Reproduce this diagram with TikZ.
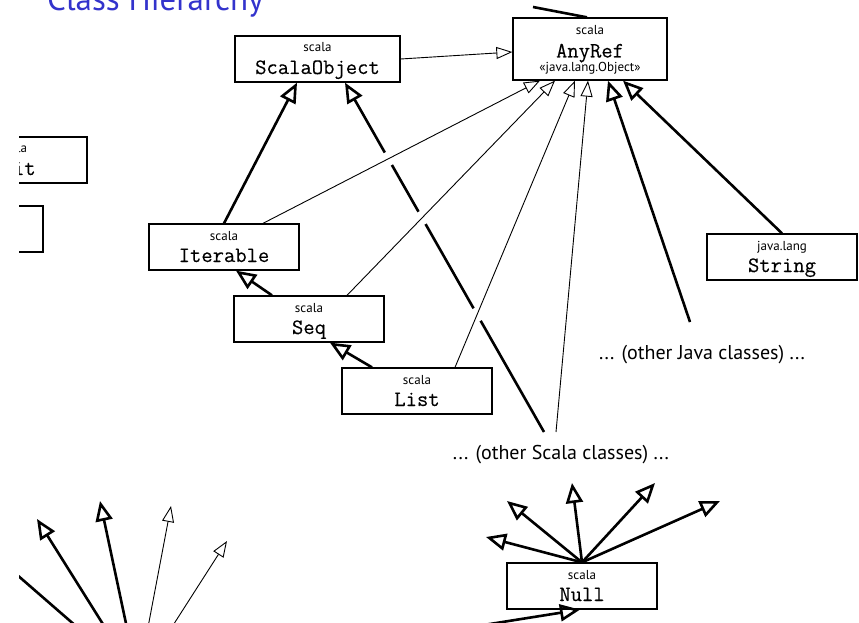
\documentclass[tikz,border=0pt]{standalone}
\usepackage{fontspec}
\setmainfont{PT Sans}
\newfontfamily\cnfont{Latin Modern Mono}[FakeBold=0.25]
\usetikzlibrary{arrows.meta,calc,intersections}
\definecolor{titleblue}{RGB}{51,51,204}
\newcommand\klass[7]{%
  \node[clsbox, minimum width=#4, minimum height=#5] (#1) at (#2,#3) {};
  \node[pkgtext] (#1-p) at ([yshift=7pt]#1.center) {#6};
  \node[cnametext] (#1-c) at ([yshift=-15pt]#1.center) {#7};}
\begin{document}
\begin{tikzpicture}[x=1pt,y=-1pt,
  clsbox/.style={draw,line width=1.3pt,inner sep=0pt},
  pkgtext/.style={font=\fontsize{13}{15}\selectfont,inner sep=0pt,anchor=base},
  cnametext/.style={font=\fontsize{22}{24}\selectfont\cnfont,inner sep=0pt,anchor=base},
  notetext/.style={font=\fontsize{20}{24}\selectfont,inner sep=0pt},
  thinarrow/.style={line width=0.9pt,-{Triangle[open,length=16pt,width=12pt]}},
  thickarrow/.style={line width=2.6pt,-{Triangle[open,length=20pt,width=17pt]}},
  thickline/.style={line width=2.6pt},
  eraser/.style={white,line width=5pt}]
\useasboundingbox (0,0) rectangle (859,623);
\clip (19,0) rectangle (859,623);

\node[font=\fontsize{33}{36}\selectfont,text=titleblue,anchor=base west,inner sep=0pt] (title) at (47,11) {Class Hierarchy};

\klass{so}{317.5}{59}{165pt}{46pt}{scala}{ScalaObject}
\node[clsbox,minimum width=154pt,minimum height=62pt] (any) at (590,49) {};
\node[pkgtext] (any-p) at ([yshift=14pt]any.center) {scala};
\node[cnametext] (any-c) at ([yshift=-8.5pt]any.center) {AnyRef};
\node[pkgtext] (any-j) at ([yshift=-23pt]any.center) {«java.lang.Object»};
\klass{unit}{13}{160}{148pt}{46pt}{scala}{Unit}
\node[clsbox,minimum width=150pt,minimum height=46pt] (bool) at (-32,229) {};
\klass{it}{224}{247}{150pt}{46pt}{scala}{Iterable}
\klass{seq}{309}{319}{150pt}{46pt}{scala}{Seq}
\klass{list}{417}{391}{150pt}{46pt}{scala}{List}
\klass{str}{782}{257}{150pt}{46pt}{java.lang}{String}
\klass{nul}{582}{586}{150pt}{46pt}{scala}{Null}

\node[notetext] (ojc) at (702,355) {... (other Java classes) ...};
\node[notetext] (osc) at (561,455) {... (other Scala classes) ...};
\coordinate (nothing) at (138,680);
\coordinate (anytop) at (533,7);
\coordinate (osca) at ($(osc.center)+(-17,-23)$);
\coordinate (oscb) at ($(osc.center)+(-5,-23)$);
\coordinate (ojca) at ($(ojc.center)+(-12,-33)$);
\coordinate (soin) at ([xshift=27.5pt]so.south);

% Any -> AnyRef (partial)
\draw[thickline] ([xshift=-3pt]any.north) -- (anytop);

\draw[thinarrow] (so.east) -- ([yshift=-3pt]any.west);
\draw[thickarrow] (it.north) -- ([xshift=-20.5pt]so.south);
\draw[thickarrow] ([xshift=-37pt]seq.north) -- ([xshift=12pt]it.south);
\draw[thickarrow] ([xshift=-45pt]list.north) -- ([xshift=21pt]seq.south);

% bridged line
\draw[thickarrow,name path=scp] (osca) -- (soin);
\path[name path=p1] ([xshift=39pt]it.north) -- ([xshift=-50pt]any.south);
\path[name path=p2] ([xshift=38pt]seq.north) -- ([xshift=-35pt]any.south);
\path[name path=p3] ([xshift=38pt]list.north) -- ([xshift=-15pt]any.south);
\path[name intersections={of=scp and p1,by=xa}];
\path[name intersections={of=scp and p2,by=xb}];
\path[name intersections={of=scp and p3,by=xc}];
\foreach \c in {xa,xb,xc}
  \draw[eraser] ($(\c)!7pt!(osca)$) -- ($(\c)!7pt!(soin)$);

\draw[thinarrow] ([xshift=39pt]it.north) -- ([xshift=-50pt]any.south);
\draw[thinarrow] ([xshift=38pt]seq.north) -- ([xshift=-35pt]any.south);
\draw[thinarrow] ([xshift=38pt]list.north) -- ([xshift=-15pt]any.south);
\draw[thinarrow] (oscb) -- ([xshift=-2pt]any.south);
\draw[thickarrow] (ojca) -- ([xshift=18pt]any.south);
\draw[thickarrow] (str.north) -- ([xshift=33pt]any.south);

% Null fan
\coordinate (nfa) at (486,537);
\coordinate (nfb) at (507,501);
\coordinate (nfc) at (572,483);
\coordinate (nfd) at (655,483);
\coordinate (nfe) at (720,501);
\foreach \t in {nfa,nfb,nfc,nfd,nfe}
  \draw[thickarrow] (nul.north) -- (\t);

% Nothing fan
\coordinate (lfo) at (-15,547);
\coordinate (lfa) at (37,519);
\coordinate (lfb) at (100,501);
\coordinate (lfc) at (171,506);
\coordinate (lfd) at (227,541);
\draw[thickline] (nothing) -- (lfo);
\draw[thickarrow] (nothing) -- (lfa);
\draw[thickarrow] (nothing) -- (lfb);
\draw[thinarrow] (nothing) -- (lfc);
\draw[thinarrow] (nothing) -- (lfd);
\draw[thickarrow] (nothing) -- ([xshift=-2pt]nul.south);
\end{tikzpicture}
\end{document}
